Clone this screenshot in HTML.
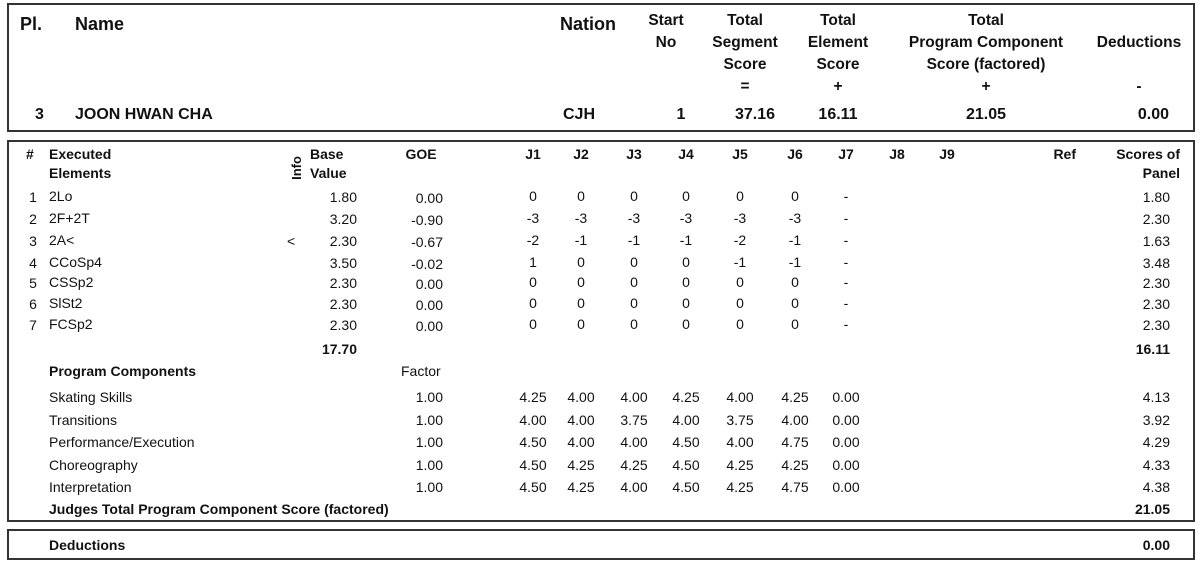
<!DOCTYPE html>
<html><head><meta charset="utf-8"><style>
body{margin:0;width:1200px;height:562px;background:#fff;position:relative;font-family:"Liberation Sans",Arial,sans-serif;color:#111;overflow:hidden}
.box{position:absolute;border:2px solid #333;box-sizing:border-box}
.t{position:absolute;white-space:nowrap;font-size:14px;line-height:16px}
.b{font-weight:bold}
.c{transform:translateX(-50%);text-align:center}
.r{transform:translateX(-100%);text-align:right}
.h{font-size:15.5px;font-weight:bold;line-height:22px}
.v{font-size:16px}
</style></head><body>
<div class="box" style="left:7px;top:3px;width:1188px;height:129px"></div>
<div class="box" style="left:7px;top:140px;width:1188px;height:382px"></div>
<div class="box" style="left:7px;top:529px;width:1188px;height:31px"></div>

<div class="t b" style="left:20px;top:13px;font-size:18px;line-height:22px">Pl.</div>
<div class="t b" style="left:75px;top:13px;font-size:18px;line-height:22px">Name</div>
<div class="t b" style="left:560px;top:13px;font-size:18px;line-height:22px">Nation</div>
<div class="t h c" style="left:666px;top:10px">Start<br>No</div>
<div class="t h c" style="left:745px;top:10px">Total<br>Segment<br>Score<br>=</div>
<div class="t h c" style="left:838px;top:10px">Total<br>Element<br>Score<br>+</div>
<div class="t h c" style="left:986px;top:10px">Total<br>Program Component<br>Score (factored)<br>+</div>
<div class="t h c" style="left:1139px;top:32px">Deductions<br><br>-</div>
<div class="t h v" style="left:35px;top:104px">3</div>
<div class="t h v" style="left:75px;top:104px">JOON HWAN CHA</div>
<div class="t h v" style="left:563px;top:104px">CJH</div>
<div class="t h v c" style="left:681px;top:104px">1</div>
<div class="t h v c" style="left:755px;top:104px">37.16</div>
<div class="t h v c" style="left:838px;top:104px">16.11</div>
<div class="t h v c" style="left:986px;top:104px">21.05</div>
<div class="t h v r" style="left:1169px;top:104px">0.00</div>

<div class="t b" style="left:26px;top:146px">#</div>
<div class="t b" style="left:49px;top:146px">Executed<br><span style="line-height:22px">Elements</span></div>
<div class="t b" style="left:285px;top:160px;transform:rotate(-90deg);transform-origin:center;font-size:13px">Info</div>
<div class="t b" style="left:310px;top:146px">Base<br><span style="line-height:22px">Value</span></div>
<div class="t b c" style="left:421px;top:146px">GOE</div>
<div class="t b c" style="left:533px;top:146px">J1</div>
<div class="t b c" style="left:581px;top:146px">J2</div>
<div class="t b c" style="left:634px;top:146px">J3</div>
<div class="t b c" style="left:686px;top:146px">J4</div>
<div class="t b c" style="left:740px;top:146px">J5</div>
<div class="t b c" style="left:795px;top:146px">J6</div>
<div class="t b c" style="left:846px;top:146px">J7</div>
<div class="t b c" style="left:897px;top:146px">J8</div>
<div class="t b c" style="left:947px;top:146px">J9</div>
<div class="t b r" style="left:1076px;top:146px">Ref</div>
<div class="t b r" style="left:1180px;top:146px">Scores of<br><span style="line-height:22px">Panel</span></div>

<div id="rows"></div>
<div class="t b r" style="left:357px;top:341px">17.70</div>
<div class="t b r" style="left:1170px;top:341px">16.11</div>
<div class="t b" style="left:49px;top:363px">Program Components</div>
<div class="t" style="left:401px;top:363px">Factor</div>
<div class="t b" style="left:49px;top:501px">Judges Total Program Component Score (factored)</div>
<div class="t b r" style="left:1170px;top:501px">21.05</div>
<div class="t b" style="left:49px;top:537px">Deductions</div>
<div class="t b r" style="left:1170px;top:537px">0.00</div>
<script>
var J=[533,581,634,686,740,795,846];
var el=[["1","2Lo","","1.80","0.00",["0","0","0","0","0","0","-"],"1.80",188],
["2","2F+2T","","3.20","-0.90",["-3","-3","-3","-3","-3","-3","-"],"2.30",210],
["3","2A<","<","2.30","-0.67",["-2","-1","-1","-1","-2","-1","-"],"1.63",232],
["4","CCoSp4","","3.50","-0.02",["1","0","0","0","-1","-1","-"],"3.48",254],
["5","CSSp2","","2.30","0.00",["0","0","0","0","0","0","-"],"2.30",274],
["6","SlSt2","","2.30","0.00",["0","0","0","0","0","0","-"],"2.30",295],
["7","FCSp2","","2.30","0.00",["0","0","0","0","0","0","-"],"2.30",316]];
var h="";
el.forEach(function(e){var y=e[7];
h+='<div class="t c" style="left:33px;top:'+(y+1)+'px">'+e[0]+'</div>';
h+='<div class="t" style="left:49px;top:'+y+'px">'+e[1]+'</div>';
h+='<div class="t" style="left:287px;top:'+(y+1)+'px">'+e[2]+'</div>';
h+='<div class="t r" style="left:357px;top:'+(y+1)+'px">'+e[3]+'</div>';
h+='<div class="t r" style="left:443px;top:'+(y+2)+'px">'+e[4]+'</div>';
e[5].forEach(function(v,i){h+='<div class="t c" style="left:'+J[i]+'px;top:'+y+'px">'+v+'</div>';});
h+='<div class="t r" style="left:1170px;top:'+(y+1)+'px">'+e[6]+'</div>';});
var pc=[["Skating Skills",["4.25","4.00","4.00","4.25","4.00","4.25","0.00"],"4.13",389],
["Transitions",["4.00","4.00","3.75","4.00","3.75","4.00","0.00"],"3.92",412],
["Performance/Execution",["4.50","4.00","4.00","4.50","4.00","4.75","0.00"],"4.29",434],
["Choreography",["4.50","4.25","4.25","4.50","4.25","4.25","0.00"],"4.33",457],
["Interpretation",["4.50","4.25","4.00","4.50","4.25","4.75","0.00"],"4.38",479]];
pc.forEach(function(e){var y=e[3];
h+='<div class="t" style="left:49px;top:'+y+'px">'+e[0]+'</div>';
h+='<div class="t r" style="left:443px;top:'+y+'px">1.00</div>';
e[1].forEach(function(v,i){h+='<div class="t c" style="left:'+J[i]+'px;top:'+y+'px">'+v+'</div>';});
h+='<div class="t r" style="left:1170px;top:'+y+'px">'+e[2]+'</div>';});
document.getElementById("rows").innerHTML=h;
</script>
</body></html>
